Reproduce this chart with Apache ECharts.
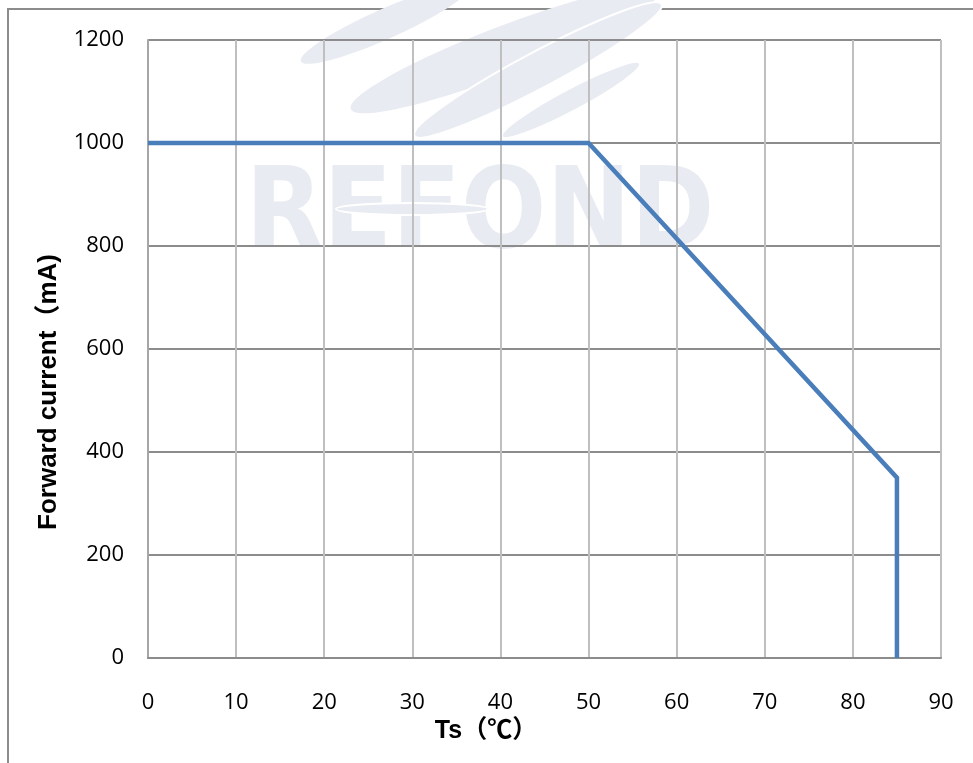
<!DOCTYPE html>
<html>
<head>
<meta charset="utf-8">
<script src="https://cdn.jsdelivr.net/npm/echarts@6/dist/echarts.min.js"></script>
<style>
  html, body { margin: 0; padding: 0; background: #fff; }
  #chart { width: 973px; height: 763px; }
</style>
</head>
<body>
<div id="chart"></div>
<script>
// Data
const tempC = [0, 50, 85, 85];
const currentMA = [1000, 1000, 350, 0];
const xTicks = [0, 10, 20, 30, 40, 50, 60, 70, 80, 90];
const yTicks = [0, 200, 400, 600, 800, 1000, 1200];
const xTitle = 'Ts（℃）';
const yTitle = 'Forward current（mA)';
const watermark = 'REFOND';

const points = tempC.map((t, i) => [t, currentMA[i]]);
const wm = '#e9ebf2';

const chart = echarts.init(document.getElementById('chart'), null, { renderer: 'canvas' });
chart.setOption({
  animation: false,
  backgroundColor: '#fff',
  grid: { left: 148, right: 32, top: 40, bottom: 105, containLabel: false },
  xAxis: {
    type: 'value',
    min: xTicks[0], max: xTicks[xTicks.length - 1], interval: 10,
    axisLine: { show: true, onZero: false, lineStyle: { color: '#8c8c8c', width: 2 } },
    axisTick: { show: false },
    axisLabel: { margin: 34, fontFamily: 'Open Sans', fontSize: 22, color: '#000',
                 formatter: v => String(v) },
    splitLine: { show: true, lineStyle: { color: '#bfbfbf', width: 2 } }
  },
  yAxis: {
    type: 'value',
    min: yTicks[0], max: yTicks[yTicks.length - 1], interval: 200,
    axisLine: { show: true, lineStyle: { color: '#a6a6a6', width: 2 } },
    axisTick: { show: false },
    axisLabel: { margin: 24, fontFamily: 'Open Sans', fontSize: 22, color: '#000',
                 formatter: v => String(v) },
    splitLine: { show: true, lineStyle: { color: '#8c8c8c', width: 2 } }
  },
  graphic: [
    { type: 'rect', z: -5, silent: true,
      shape: { x: 8, y: 9, width: 1000, height: 800 },
      style: { fill: 'none', stroke: '#8c8c8c', lineWidth: 2 } },
    { type: 'ellipse', z: -2, silent: true, x: 385, y: 24, rotation: 24 * Math.PI / 180,
      shape: { cx: 0, cy: 0, rx: 92, ry: 15 }, style: { fill: wm } },
    { type: 'ellipse', z: -2, silent: true, x: 505, y: 50, rotation: 21 * Math.PI / 180,
      shape: { cx: 0, cy: 0, rx: 165, ry: 24 }, style: { fill: wm } },
    { type: 'ellipse', z: -2, silent: true, x: 538, y: 70, rotation: 28 * Math.PI / 180,
      shape: { cx: 0, cy: 0, rx: 140, ry: 18 }, style: { fill: wm, stroke: '#fff', lineWidth: 2 } },
    { type: 'ellipse', z: -2, silent: true, x: 571, y: 100, rotation: 28 * Math.PI / 180,
      shape: { cx: 0, cy: 0, rx: 78, ry: 11 }, style: { fill: wm, stroke: '#fff', lineWidth: 2 } },
    { type: 'text', z: -2, silent: true, x: 480, y: 218,
      style: { text: watermark, fontFamily: 'DejaVu Sans Condensed', fontWeight: 'bold', fontSize: 112,
               fill: wm, align: 'center', verticalAlign: 'middle' } },
    { type: 'ellipse', z: -1, silent: true, x: 412, y: 209,
      shape: { cx: 0, cy: 0, rx: 76, ry: 6 }, style: { fill: wm, stroke: '#fff', lineWidth: 2 } },
    { type: 'text', silent: true, x: 486, y: 731,
      style: { text: xTitle, fontFamily: 'Liberation Sans, Noto Sans CJK SC', fontWeight: 'bold', fontSize: 25,
               fill: '#000', align: 'center', verticalAlign: 'middle' } },
    { type: 'text', silent: true, x: 49, y: 392, rotation: Math.PI / 2,
      style: { text: yTitle, fontFamily: 'Liberation Sans, Noto Sans CJK SC', fontWeight: 'bold', fontSize: 26,
               fill: '#000', align: 'center', verticalAlign: 'middle' } }
  ],
  series: [{
    type: 'line',
    data: points,
    showSymbol: false,
    symbol: 'none',
    lineStyle: { color: '#4a7ebb', width: 4.5, join: 'miter' },
    z: 3
  }]
});
</script>
</body>
</html>
